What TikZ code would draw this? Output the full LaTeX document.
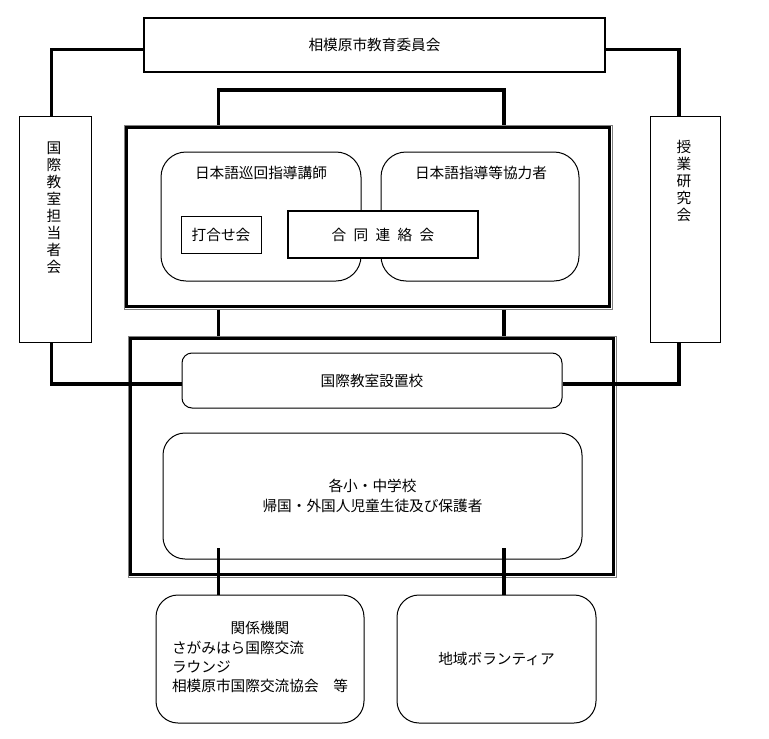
\documentclass[tikz,border=0pt]{standalone}
\usepackage{fontspec}
\setmainfont{Noto Sans CJK JP}
\begin{document}
\begin{tikzpicture}[x=0.75pt,y=-0.75pt,
  every node/.style={font=\fontsize{11pt}{14.5pt}\selectfont, inner sep=0pt},
  conn/.style={line width=2.4pt},
  sqbox/.style={draw, line width=0.75pt, fill=white},
  thickbox/.style={draw, line width=1.2pt, fill=white},
  rbox/.style={draw, line width=0.75pt, fill=white},
  framebox/.style={draw=gray, line width=0.75pt},
  vtext/.style={align=center, font=\fontsize{11pt}{12.75pt}\selectfont},
]
\useasboundingbox (0,0) rectangle (769,739);

% coordinates for connector x positions
\coordinate (xa) at (218.5,0);
\coordinate (xb) at (504,0);
\coordinate (ybr) at (0,90);

% top box
\node[thickbox, minimum width=345.75pt, minimum height=40.5pt] (top) at (374.5,45) {相模原市教育委員会};

% side boxes
\node[sqbox, minimum width=54pt, minimum height=169.5pt] (lb) at (55,229) {};
\node[vtext] (vl) at (54,207.5) {国\\際\\教\\室\\担\\当\\者\\会};
\node[sqbox, minimum width=52.5pt, minimum height=169.5pt] (rb) at (685,229) {};
\node[vtext] (vr) at (684,181) {授\\業\\研\\究\\会};

% frame 1
\node[framebox, minimum width=366pt, minimum height=138pt] (f1) at (368,217) {};
\draw[line width=1.6pt] ([shift={(3,3)}]f1.north west) rectangle ([shift={(-3,-3)}]f1.south east);

\node[rbox, rounded corners=18.75pt, minimum width=150pt, minimum height=96.75pt] (r1) at (261,216.5) {};
\node[rbox, rounded corners=18.75pt, minimum width=148.5pt, minimum height=96.75pt] (r2) at (480,216.5) {};
\node (t1) at (261,173) {日本語巡回指導講師};
\node (t2) at (481,173) {日本語指導等協力者};
\node[sqbox, minimum width=60pt, minimum height=27.75pt] (meet) at (221,234.5) {打合せ会};
\node[draw, line width=1.6pt, fill=white, minimum width=142.5pt, minimum height=35.25pt] (joint) at (383,234.5) {合\hspace{0.5em}同\hspace{0.5em}連\hspace{0.5em}絡\hspace{0.5em}会};

% frame 2
\node[framebox, minimum width=366pt, minimum height=180.75pt] (f2) at (372,456.5) {};
\draw[line width=1.6pt] ([shift={(3,3)}]f2.north west) rectangle ([shift={(-3,-3)}]f2.south east);

\node[rbox, rounded corners=7.5pt, minimum width=285pt, minimum height=41.25pt] (s1) at (372,380.5) {国際教室設置校};
\node[rbox, rounded corners=16.5pt, minimum width=314.25pt, minimum height=94.5pt, align=center] (s2) at (372.5,496) {各小・中学校\\帰国・外国人児童生徒及び保護者};

% bottom boxes
\node[rbox, rounded corners=16.5pt, minimum width=156pt, minimum height=96pt] (o1) at (260,659)
  {\begin{tabular}{@{}l@{}}\multicolumn{1}{@{}c@{}}{関係機関}\\さがみはら国際交流\\ラウンジ\\相模原市国際交流協会　等\end{tabular}};
\node[rbox, rounded corners=16.5pt, minimum width=149.25pt, minimum height=96pt] (o2) at (496.5,659) {地域ボランティア};

% connectors
\draw[conn] ([yshift=-3.4pt]top.west) -| ([xshift=-2.5pt]lb.north);
\draw[conn] ([yshift=-3.4pt]top.east) -| ([xshift=-4.5pt]rb.north);
\draw[conn] (f1.north -| xa) -- (ybr -| xa) -- (ybr -| xb) -- (f1.north -| xb);
\draw[conn] (f1.south -| xa) -- (f2.north -| xa);
\draw[conn] (f1.south -| xb) -- (f2.north -| xb);
\draw[conn] ([xshift=-2.5pt]lb.south) |- ([yshift=-2.6pt]s1.west);
\draw[conn] ([xshift=-4.5pt]rb.south) |- ([yshift=-2.6pt]s1.east);
\coordinate (sa) at (218.5,548);
\coordinate (sb) at (504,548);
\draw[conn] (sa) -- (o1.north -| sa);
\draw[conn] (sb) -- (o2.north -| sb);
\end{tikzpicture}
\end{document}
